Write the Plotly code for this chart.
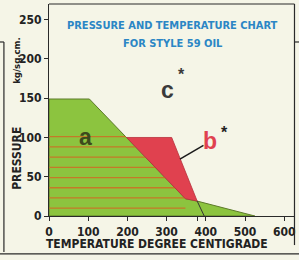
import numpy as np
import plotly.graph_objects as go

# ---- data ----
green_x = [0, 0, 103, 348, 378, 525]
green_y = [0, 149, 149, 22, 19, 0]
red_x = [198, 313, 378, 348]
red_y = [100, 100, 19, 22]
stripe_levels = [101, 88, 75, 62, 49, 36, 23, 10]
stripe_cap = 350
marker_x = [378, 396]
marker_y = [19, 0]
leader_x = [394, 334]
leader_y = [90, 72.5]
x_ticks = [0, 100, 200, 300, 400, 500, 600]
x_minor_ticks = [380]
y_ticks = [0, 50, 100, 150, 200, 250]

NARROW = "DejaVu Sans Condensed, Liberation Sans Narrow, sans-serif"
BOLD = "Liberation Sans, Arial, sans-serif"
GREEN = "#8cc43f"
STRIPE = "#c47a28"
RED = "#e0414f"
BG = "#f5f5e7"

fig = go.Figure()

fig.add_trace(go.Scatter(x=green_x + [green_x[0]], y=green_y + [green_y[0]],
                         fill="toself", fillcolor=GREEN, mode="lines",
                         line=dict(color="#5d7a2a", width=1), hoverinfo="skip",
                         showlegend=False))
diag_y = green_y[2:4][::-1]
diag_x = green_x[2:4][::-1]
for lv in stripe_levels:
    xe = min(float(np.interp(lv, diag_y, diag_x)), stripe_cap)
    fig.add_trace(go.Scatter(x=[0, xe], y=[lv, lv], mode="lines",
                             line=dict(color=STRIPE, width=1.3),
                             hoverinfo="skip", showlegend=False))
fig.add_trace(go.Scatter(x=red_x + [red_x[0]], y=red_y + [red_y[0]],
                         fill="toself", fillcolor=RED, mode="lines",
                         line=dict(color="#b8313c", width=0.8), hoverinfo="skip",
                         showlegend=False))
fig.add_trace(go.Scatter(x=marker_x, y=marker_y, mode="lines",
                         line=dict(color="#333333", width=1),
                         hoverinfo="skip", showlegend=False))
fig.add_trace(go.Scatter(x=leader_x, y=leader_y, mode="lines",
                         line=dict(color="#1a1a1a", width=1.5),
                         hoverinfo="skip", showlegend=False))

ann = []
def txt(x, y, s, size, color, xref="x", yref="y", family=BOLD, angle=0, xanchor="center"):
    ann.append(dict(x=x, y=y, xref=xref, yref=yref, text=s, showarrow=False,
                    font=dict(family=family, size=size, color=color, weight="bold"),
                    textangle=angle, xanchor=xanchor, yanchor="middle"))

txt(94, 101, "a", 23, "#3d4a1c")
txt(324, 161, "c", 23, "#3a3a3a", xanchor="right")
txt(324, 180, "*", 16, "#3a3a3a", xanchor="left")
txt(434, 95, "b", 23, RED, xanchor="right")
txt(434, 106, "*", 16, "#222222", xanchor="left")
txt(0.506, 0.897, "PRESSURE AND TEMPERATURE CHART", 11, "#2b86c5", "paper", "paper", NARROW)
txt(0.506, 0.814, "FOR STYLE 59 OIL", 11, "#2b86c5", "paper", "paper", NARROW)
txt(0.441, -0.13, "TEMPERATURE DEGREE CENTIGRADE", 12, "#222222", "paper", "paper", NARROW)
txt(-0.131, 0.274, "PRESSURE", 12, "#222222", "paper", "paper", NARROW, -90)
txt(-0.131, 0.736, "kg/sq.cm.", 9.5, "#222222", "paper", "paper", NARROW, -90)

frame = dict(color="#2a2a2a", width=1.2)
shapes = [
    dict(type="line", xref="paper", yref="paper", x0=0, x1=1.002, y0=1.0, y1=1.0, line=frame),
    dict(type="line", xref="paper", yref="paper", x0=1.002, x1=1.002, y0=1.0, y1=-0.137, line=frame),
    dict(type="line", xref="paper", yref="paper", x0=1.002, x1=1.03, y0=0.8208, y1=0.8208, line=frame),
    dict(type="line", xref="paper", yref="paper", x0=-0.184, x1=-0.184, y0=0.8208, y1=-0.17, line=frame),
    dict(type="line", xref="paper", yref="paper", x0=-0.2, x1=-0.184, y0=0.8208, y1=0.8208, line=frame),
    dict(type="line", xref="paper", yref="paper", x0=-0.2, x1=1.03, y0=-0.179, y1=-0.179, line=frame),
]

fig.update_layout(
    width=299, height=260,
    margin=dict(l=49, r=5, t=4, b=44),
    paper_bgcolor=BG, plot_bgcolor=BG,
    annotations=ann, shapes=shapes,
    xaxis=dict(range=[0, 625], tickvals=x_ticks,
               minor=dict(tickvals=x_minor_ticks, ticks="outside", ticklen=4,
                          tickcolor="#2a2a2a", showgrid=False),
               showgrid=False, zeroline=False, showline=True, linecolor="#2a2a2a",
               linewidth=1.2, ticks="outside", ticklen=4, tickcolor="#2a2a2a",
               tickfont=dict(family=NARROW, size=12, color="#222222", weight="bold"),
               fixedrange=True),
    yaxis=dict(range=[0, 270], tickvals=y_ticks,
               showgrid=False, zeroline=False, showline=True, linecolor="#2a2a2a",
               linewidth=1.2, ticks="outside", ticklen=4, tickcolor="#2a2a2a",
               tickfont=dict(family=NARROW, size=12, color="#222222", weight="bold"),
               fixedrange=True),
)

fig.write_html("out.html")
